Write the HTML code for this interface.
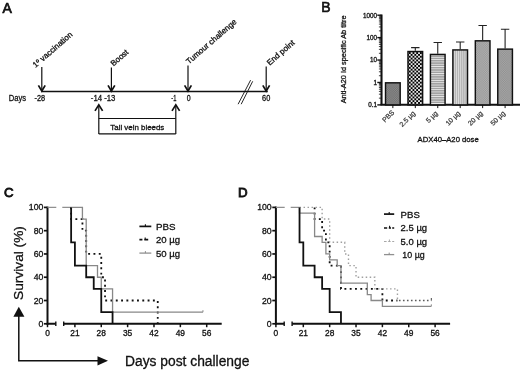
<!DOCTYPE html>
<html><head><meta charset="utf-8"><title>Figure</title>
<style>
html,body{margin:0;padding:0;background:#fff;}
body{width:520px;height:374px;overflow:hidden;font-family:"Liberation Sans",sans-serif;}
svg{display:block;opacity:0.999;will-change:transform;filter:blur(0.35px);}
text{stroke:#111;stroke-width:0.3px;}
text.lt{stroke:#444;stroke-width:0.25px;}
text.pl{stroke-width:0.85px;}
</style></head><body>
<svg width="520" height="374" viewBox="0 0 520 374">
<rect width="520" height="374" fill="#fff"/>
<text x="2.6" y="13.1" font-size="14" class="pl" fill="#111" style="stroke-width:0.7px" font-family="Liberation Sans, sans-serif">A</text>
<g stroke="#111" stroke-width="1.2" fill="none">
<path d="M41.5 91.5H267.8" stroke-width="1.3"/>
<path d="M41.8 67V91"/><path d="M38.4 85.4L41.8 91.0L45.199999999999996 85.4" stroke-width="1.7"/>
<path d="M111.4 67.5V91"/><path d="M108.0 85.4L111.4 91.0L114.80000000000001 85.4" stroke-width="1.7"/>
<path d="M188 65.5V91"/><path d="M184.6 85.4L188 91.0L191.4 85.4" stroke-width="1.7"/>
<path d="M266.2 66.5V91"/><path d="M262.8 85.4L266.2 91.0L269.59999999999997 85.4" stroke-width="1.7"/>
<path d="M98.8 134V105"/><path d="M95.0 110.9L98.8 104.9L102.6 110.9" stroke-width="1.7"/>
<path d="M175.8 134V105"/><path d="M172.0 110.9L175.8 104.9L179.60000000000002 110.9" stroke-width="1.7"/>
<path d="M98.8 118.5H175.8M98.8 133.9H175.8"/>
<path d="M238.1 104.2L250.6 80.1M241.2 104.2L252.7 81.3" stroke-width="0.9"/>
</g>
<g font-size="8.4" font-family="Liberation Sans, sans-serif" fill="#111" lengthAdjust="spacingAndGlyphs">
<text x="8.7" y="101.2" font-size="8.7" textLength="17.3" lengthAdjust="spacingAndGlyphs">Days</text>
<text x="34.5" y="101.2" textLength="10.6" lengthAdjust="spacingAndGlyphs">-28</text>
<text x="90.8" y="101.2" textLength="24.6" lengthAdjust="spacingAndGlyphs">-14 -13</text>
<text x="171.3" y="101.2" textLength="5.1" lengthAdjust="spacingAndGlyphs">-1</text>
<text x="186.8" y="101.2" textLength="3.9" lengthAdjust="spacingAndGlyphs">0</text>
<text x="262.1" y="101.2" textLength="8.2" lengthAdjust="spacingAndGlyphs">60</text>
<text x="110.3" y="130" font-size="8.1" textLength="54" lengthAdjust="spacingAndGlyphs">Tail vein bleeds</text>
<text transform="translate(35.6 68) rotate(-41)" font-size="8">1º vaccination</text>
<text transform="translate(113.5 66.5) rotate(-41)" font-size="8">Boost</text>
<text transform="translate(189 64.5) rotate(-41)" font-size="8">Tumour challenge</text>
<text transform="translate(269.7 65.7) rotate(-41)" font-size="8">End point</text>
</g>
<text x="321.2" y="12.4" font-size="14" class="pl" fill="#111" style="stroke-width:0.65px" font-family="Liberation Sans, sans-serif">B</text>
<defs>
<pattern id="pchk" x="410.68" y="52.1" width="3.7" height="3.7" patternUnits="userSpaceOnUse"><rect width="3.7" height="3.7" fill="#000"/><rect x="0.05" y="0.05" width="1.75" height="1.75" fill="#fff"/><rect x="1.9" y="1.9" width="1.75" height="1.75" fill="#fff"/></pattern>
<pattern id="phor" x="0" y="54.6" width="4" height="2.31" patternUnits="userSpaceOnUse"><rect width="4" height="2.31" fill="#a2a2a2"/><rect y="0" width="4" height="0.75" fill="#ececec"/></pattern>
<pattern id="pver" x="453.95" y="0" width="2.12" height="4" patternUnits="userSpaceOnUse"><rect width="2.12" height="4" fill="#b4b4b4"/><rect x="0" width="0.75" height="4" fill="#dedede"/></pattern>
<pattern id="pd1" width="1.8" height="1.8" patternUnits="userSpaceOnUse"><rect width="1.8" height="1.8" fill="#6c6c6c"/><rect width="0.9" height="0.9" fill="#8e8e8e"/><rect x="0.9" y="0.9" width="0.9" height="0.9" fill="#8e8e8e"/></pattern>
<pattern id="pd5" width="1.8" height="1.8" patternUnits="userSpaceOnUse"><rect width="1.8" height="1.8" fill="#969696"/><rect width="0.9" height="0.9" fill="#b2b2b2"/><rect x="0.9" y="0.9" width="0.9" height="0.9" fill="#b2b2b2"/></pattern>
<pattern id="pd6" width="1.8" height="1.8" patternUnits="userSpaceOnUse"><rect width="1.8" height="1.8" fill="#8e8e8e"/><rect width="0.9" height="0.9" fill="#a8a8a8"/><rect x="0.9" y="0.9" width="0.9" height="0.9" fill="#a8a8a8"/></pattern>
</defs>
<g stroke="#111" fill="none">
<path d="M381.5 14.5V104.9" stroke-width="2.1"/>
<path d="M380.5 104.7H520" stroke-width="1.9"/>
<path d="M377.3 15.20H381.5" stroke-width="1.4"/>
<path d="M377.3 37.62H381.5" stroke-width="1.4"/>
<path d="M377.3 60.05H381.5" stroke-width="1.4"/>
<path d="M377.3 82.48H381.5" stroke-width="1.4"/>
<path d="M377.3 104.90H381.5" stroke-width="1.4"/>
<path d="M378.9 30.87H381.5" stroke-width="0.8"/>
<path d="M378.9 26.93H381.5" stroke-width="0.8"/>
<path d="M378.9 24.12H381.5" stroke-width="0.8"/>
<path d="M378.9 21.95H381.5" stroke-width="0.8"/>
<path d="M378.9 20.17H381.5" stroke-width="0.8"/>
<path d="M378.9 18.67H381.5" stroke-width="0.8"/>
<path d="M378.9 17.37H381.5" stroke-width="0.8"/>
<path d="M378.9 16.23H381.5" stroke-width="0.8"/>
<path d="M378.9 53.30H381.5" stroke-width="0.8"/>
<path d="M378.9 49.35H381.5" stroke-width="0.8"/>
<path d="M378.9 46.55H381.5" stroke-width="0.8"/>
<path d="M378.9 44.38H381.5" stroke-width="0.8"/>
<path d="M378.9 42.60H381.5" stroke-width="0.8"/>
<path d="M378.9 41.10H381.5" stroke-width="0.8"/>
<path d="M378.9 39.80H381.5" stroke-width="0.8"/>
<path d="M378.9 38.65H381.5" stroke-width="0.8"/>
<path d="M378.9 75.72H381.5" stroke-width="0.8"/>
<path d="M378.9 71.78H381.5" stroke-width="0.8"/>
<path d="M378.9 68.97H381.5" stroke-width="0.8"/>
<path d="M378.9 66.80H381.5" stroke-width="0.8"/>
<path d="M378.9 65.02H381.5" stroke-width="0.8"/>
<path d="M378.9 63.52H381.5" stroke-width="0.8"/>
<path d="M378.9 62.22H381.5" stroke-width="0.8"/>
<path d="M378.9 61.08H381.5" stroke-width="0.8"/>
<path d="M378.9 98.15H381.5" stroke-width="0.8"/>
<path d="M378.9 94.20H381.5" stroke-width="0.8"/>
<path d="M378.9 91.40H381.5" stroke-width="0.8"/>
<path d="M378.9 89.23H381.5" stroke-width="0.8"/>
<path d="M378.9 87.45H381.5" stroke-width="0.8"/>
<path d="M378.9 85.95H381.5" stroke-width="0.8"/>
<path d="M378.9 84.65H381.5" stroke-width="0.8"/>
<path d="M378.9 83.50H381.5" stroke-width="0.8"/>
</g>
<g font-size="6.3" font-family="Liberation Sans, sans-serif" fill="#111" text-anchor="end">
<text x="377.1" y="17.50">1000</text>
<text x="377.1" y="39.92">100</text>
<text x="377.1" y="62.35">10</text>
<text x="377.1" y="84.78">1</text>
<text x="377.1" y="107.20">0.1</text>
</g>
<rect x="385.52" y="82.82" width="14.660000000000002" height="22.08" fill="url(#pd1)" stroke="#111" stroke-width="1.44"/>
<path d="M392.85 104.9V108.10000000000001" stroke="#111" stroke-width="1"/>
<text transform="translate(394.75 113.0) rotate(-45)" text-anchor="end" font-size="6.9" font-family="Liberation Sans, sans-serif" fill="#333" class="lt">PBS</text>
<path d="M415.30 50.8V47.6M411.10 47.6H419.50" stroke="#222" stroke-width="1.1" fill="none"/>
<rect x="407.97" y="51.519999999999996" width="14.660000000000002" height="53.38" fill="url(#pchk)" stroke="#111" stroke-width="1.44"/>
<path d="M415.30 104.9V108.10000000000001" stroke="#111" stroke-width="1"/>
<text transform="translate(415.80 113.7) rotate(-45)" text-anchor="end" font-size="6.9" font-family="Liberation Sans, sans-serif" fill="#333" class="lt">2.5 µg</text>
<path d="M437.75 53.7V42.5M433.55 42.5H441.95" stroke="#222" stroke-width="1.1" fill="none"/>
<rect x="430.42" y="54.42" width="14.660000000000002" height="50.48" fill="url(#phor)" stroke="#111" stroke-width="1.44"/>
<path d="M437.75 104.9V108.10000000000001" stroke="#111" stroke-width="1"/>
<text transform="translate(438.25 113.7) rotate(-45)" text-anchor="end" font-size="6.9" font-family="Liberation Sans, sans-serif" fill="#333" class="lt">5 µg</text>
<path d="M460.20 49.2V42.0M456.00 42.0H464.40" stroke="#222" stroke-width="1.1" fill="none"/>
<rect x="452.87" y="49.92" width="14.660000000000002" height="54.98" fill="url(#pver)" stroke="#111" stroke-width="1.44"/>
<path d="M460.20 104.9V108.10000000000001" stroke="#111" stroke-width="1"/>
<text transform="translate(460.70 113.7) rotate(-45)" text-anchor="end" font-size="6.9" font-family="Liberation Sans, sans-serif" fill="#333" class="lt">10 µg</text>
<path d="M482.65 40.1V25.5M478.45 25.5H486.85" stroke="#222" stroke-width="1.1" fill="none"/>
<rect x="475.32" y="40.82" width="14.660000000000002" height="64.08" fill="url(#pd5)" stroke="#111" stroke-width="1.44"/>
<path d="M482.65 104.9V108.10000000000001" stroke="#111" stroke-width="1"/>
<text transform="translate(483.15 113.7) rotate(-45)" text-anchor="end" font-size="6.9" font-family="Liberation Sans, sans-serif" fill="#333" class="lt">20 µg</text>
<path d="M505.10 48.4V29.3M500.90 29.3H509.30" stroke="#222" stroke-width="1.1" fill="none"/>
<rect x="497.77" y="49.12" width="14.660000000000002" height="55.78" fill="url(#pd6)" stroke="#111" stroke-width="1.44"/>
<path d="M505.10 104.9V108.10000000000001" stroke="#111" stroke-width="1"/>
<text transform="translate(505.60 113.7) rotate(-45)" text-anchor="end" font-size="6.9" font-family="Liberation Sans, sans-serif" fill="#333" class="lt">50 µg</text>
<text x="417.6" y="141.8" font-size="7.7" font-family="Liberation Sans, sans-serif" fill="#111">ADX40–A20 dose</text>
<text transform="translate(346.3 59.4) rotate(-90)" text-anchor="middle" font-size="7.35" font-family="Liberation Sans, sans-serif" fill="#222">Anti-A20 Id specific Ab titre</text>
<text x="3.9" y="197.35" font-size="13.3" class="pl" fill="#111" font-family="Liberation Sans, sans-serif">C</text>
<g stroke="#111" fill="none">
<path d="M47.5 206.60000000000002V324.7" stroke-width="2"/>
<path d="M46.7 323.8H55.8M63.7 323.8H221.7" stroke-width="1.9"/>
<path d="M55.8 321.6V326.0M63.7 321.6V326.0" stroke-width="1.4"/>
<path d="M43.9 323.80H47.5" stroke-width="1.7"/>
<path d="M43.9 300.52H47.5" stroke-width="1.7"/>
<path d="M43.9 277.24H47.5" stroke-width="1.7"/>
<path d="M43.9 253.96H47.5" stroke-width="1.7"/>
<path d="M43.9 230.68H47.5" stroke-width="1.7"/>
<path d="M43.9 207.40H47.5" stroke-width="1.7"/>
<path d="M47.5 323.8V327.2" stroke-width="1.5"/>
<path d="M74.90 323.8V327.2" stroke-width="1.5"/>
<path d="M101.26 323.8V327.2" stroke-width="1.5"/>
<path d="M127.62 323.8V327.2" stroke-width="1.5"/>
<path d="M153.99 323.8V327.2" stroke-width="1.5"/>
<path d="M180.35 323.8V327.2" stroke-width="1.5"/>
<path d="M206.71 323.8V327.2" stroke-width="1.5"/>
</g>
<g font-size="8.7" font-family="Liberation Sans, sans-serif" fill="#111" text-anchor="end">
<text x="43.3" y="326.80">0</text>
<text x="43.3" y="303.52">20</text>
<text x="43.3" y="280.24">40</text>
<text x="43.3" y="256.96">60</text>
<text x="43.3" y="233.68">80</text>
<text x="43.3" y="210.40">100</text>
</g>
<g font-size="8.4" font-family="Liberation Sans, sans-serif" fill="#111" text-anchor="middle">
<text x="47.5" y="336">0</text>
<text x="74.90" y="336">21</text>
<text x="101.26" y="336">28</text>
<text x="127.62" y="336">35</text>
<text x="153.99" y="336">42</text>
<text x="180.35" y="336">49</text>
<text x="206.71" y="336">56</text>
</g>
<path d="M47.5 207.40000000000003H56.3M62.3 207.40000000000003H71.13" stroke="#909090" stroke-width="1.3" fill="none"/>
<path d="M71.13 207.40H71.13V219.04H82.43V230.68H86.20V253.96H101.26V277.24H105.03V300.52H157.75V323.80" stroke="#111" stroke-width="1.8" stroke-dasharray="1.9 3.4" fill="none"/>
<path d="M71.13 207.40H82.43V219.04H86.20V265.60H97.50V277.24H101.26V288.88H112.56V312.16H202.94" stroke="#888" stroke-width="1.3" fill="none"/>
<path d="M202.94 312.16v-2" stroke="#8c8c8c" stroke-width="1"/>
<path d="M71.13 207.40H71.13V242.32H74.90V265.60H86.20V277.24H93.73V288.88H101.26V312.16H112.56V323.80" stroke="#111" stroke-width="1.8" fill="none" stroke-linejoin="miter"/>
<g font-size="9.9" font-family="Liberation Sans, sans-serif" fill="#111">
<text x="156" y="229.90" textLength="19.6" lengthAdjust="spacingAndGlyphs">PBS</text>
<text x="156" y="243.25" textLength="24.2" lengthAdjust="spacingAndGlyphs">20 µg</text>
<text x="156" y="256.60" textLength="24.2" lengthAdjust="spacingAndGlyphs">50 µg</text>
</g>
<path d="M139.4 226.4H151.3" stroke="#111" stroke-width="1.7"/><path d="M145.4 226.4v-2.2" stroke="#111" stroke-width="1.1"/>
<path d="M139.4 239.6H142.4M144.3 239.6H148.2" stroke="#111" stroke-width="1.7"/><path d="M145.2 239.6v-2.2" stroke="#111" stroke-width="1.1"/>
<path d="M139.4 253.1H151.3" stroke="#909090" stroke-width="1.3"/><path d="M145.4 253.1v-2" stroke="#8c8c8c" stroke-width="1"/>
<path d="M18.8 316V360.8H98" stroke="#111" stroke-width="1.5" fill="none"/>
<path d="M18.8 306.8L13.4 316.8H24.4Z" fill="#111"/>
<path d="M108 360.8L97.5 356.2V365.4Z" fill="#111"/>
<text x="125" y="366.2" font-size="13.8" textLength="124.4" lengthAdjust="spacingAndGlyphs" font-family="Liberation Sans, sans-serif" fill="#111">Days post challenge</text>
<text transform="translate(23.3 263) rotate(-90)" text-anchor="middle" font-size="13.7" font-family="Liberation Sans, sans-serif" fill="#111">Survival (%)</text>
<text x="238.0" y="196.9" font-size="13.3" class="pl" fill="#111" font-family="Liberation Sans, sans-serif">D</text>
<g stroke="#111" fill="none">
<path d="M275.9 206.60000000000002V324.7" stroke-width="2"/>
<path d="M275.09999999999997 323.8H284.2M292.09999999999997 323.8H450.09999999999997" stroke-width="1.9"/>
<path d="M284.2 321.6V326.0M292.09999999999997 321.6V326.0" stroke-width="1.4"/>
<path d="M272.29999999999995 323.80H275.9" stroke-width="1.7"/>
<path d="M272.29999999999995 300.52H275.9" stroke-width="1.7"/>
<path d="M272.29999999999995 277.24H275.9" stroke-width="1.7"/>
<path d="M272.29999999999995 253.96H275.9" stroke-width="1.7"/>
<path d="M272.29999999999995 230.68H275.9" stroke-width="1.7"/>
<path d="M272.29999999999995 207.40H275.9" stroke-width="1.7"/>
<path d="M275.9 323.8V327.2" stroke-width="1.5"/>
<path d="M303.30 323.8V327.2" stroke-width="1.5"/>
<path d="M329.66 323.8V327.2" stroke-width="1.5"/>
<path d="M356.02 323.8V327.2" stroke-width="1.5"/>
<path d="M382.39 323.8V327.2" stroke-width="1.5"/>
<path d="M408.75 323.8V327.2" stroke-width="1.5"/>
<path d="M435.11 323.8V327.2" stroke-width="1.5"/>
</g>
<g font-size="8.7" font-family="Liberation Sans, sans-serif" fill="#111" text-anchor="end">
<text x="271.7" y="326.80">0</text>
<text x="271.7" y="303.52">20</text>
<text x="271.7" y="280.24">40</text>
<text x="271.7" y="256.96">60</text>
<text x="271.7" y="233.68">80</text>
<text x="271.7" y="210.40">100</text>
</g>
<g font-size="8.4" font-family="Liberation Sans, sans-serif" fill="#111" text-anchor="middle">
<text x="275.9" y="336">0</text>
<text x="303.30" y="336">21</text>
<text x="329.66" y="336">28</text>
<text x="356.02" y="336">35</text>
<text x="382.39" y="336">42</text>
<text x="408.75" y="336">49</text>
<text x="435.11" y="336">56</text>
</g>
<path d="M275.9 207.40000000000003H284.7M290.7 207.40000000000003H299.53" stroke="#909090" stroke-width="1.3" fill="none"/>
<path d="M314.60 207.40H314.60V219.04H322.13V230.68H325.90V242.32H329.66V265.60H340.96V288.88H382.39V300.52H397.45" stroke="#111" stroke-width="1.8" stroke-dasharray="1.9 3.4" fill="none"/>
<path d="M299.53 207.40H322.13V219.04H329.66V242.32H344.73V253.96H348.49V265.60H356.02V277.24H374.85V288.88H397.45V300.52" stroke="#a0a0a0" stroke-width="1.4" stroke-dasharray="1.5 2.5" fill="none"/>
<path d="M398.95 300.52H431.34" stroke="#5a5a5a" stroke-width="1.5" stroke-dasharray="1.6 2.4" fill="none"/>
<path d="M431.34 300.52v-2.4" stroke="#555" stroke-width="1.1"/>
<path d="M299.53 207.40H299.53V213.22H314.60V236.50H322.13V242.32H325.90V253.96H329.66V259.78H337.19V265.60H340.96V283.06H367.32V294.70H371.09V300.52H382.39V306.34H431.34" stroke="#888" stroke-width="1.3" fill="none"/>
<path d="M431.34 306.34000000000003v-2" stroke="#8c8c8c" stroke-width="1"/>
<path d="M299.53 207.40H299.53V242.32H303.30V265.60H314.60V277.24H322.13V288.88H329.66V312.16H340.96V323.80" stroke="#111" stroke-width="1.8" fill="none"/>
<g font-size="9.9" font-family="Liberation Sans, sans-serif" fill="#111">
<text x="400.6" y="217.60" textLength="19.2" lengthAdjust="spacingAndGlyphs">PBS</text>
<text x="400.6" y="231.10" textLength="26.5" lengthAdjust="spacingAndGlyphs">2.5 µg</text>
<text x="400.6" y="244.60" textLength="26.5" lengthAdjust="spacingAndGlyphs">5.0 µg</text>
<text x="402.3" y="258.10" textLength="22.4" lengthAdjust="spacingAndGlyphs">10 µg</text>
</g>
<path d="M384 214.1H394.2" stroke="#111" stroke-width="1.7"/><path d="M389.2 214.1v-2.2" stroke="#111" stroke-width="1.1"/>
<path d="M384 228.0H387.2M388.8 228.0H391M392.2 228.0H394.2" stroke="#111" stroke-width="1.7"/><path d="M389.6 228.0v-2.2" stroke="#111" stroke-width="1.1"/>
<path d="M384 241.5H386.6M388.2 241.5H390.6M392.2 241.5H394.2" stroke="#a8a8a8" stroke-width="1.2"/><path d="M389.4 241.5v-2" stroke="#a8a8a8" stroke-width="1"/>
<path d="M384 254.6H394.2" stroke="#909090" stroke-width="1.3"/><path d="M389.2 254.6v-2" stroke="#8c8c8c" stroke-width="1"/>
</svg>
</body></html>
